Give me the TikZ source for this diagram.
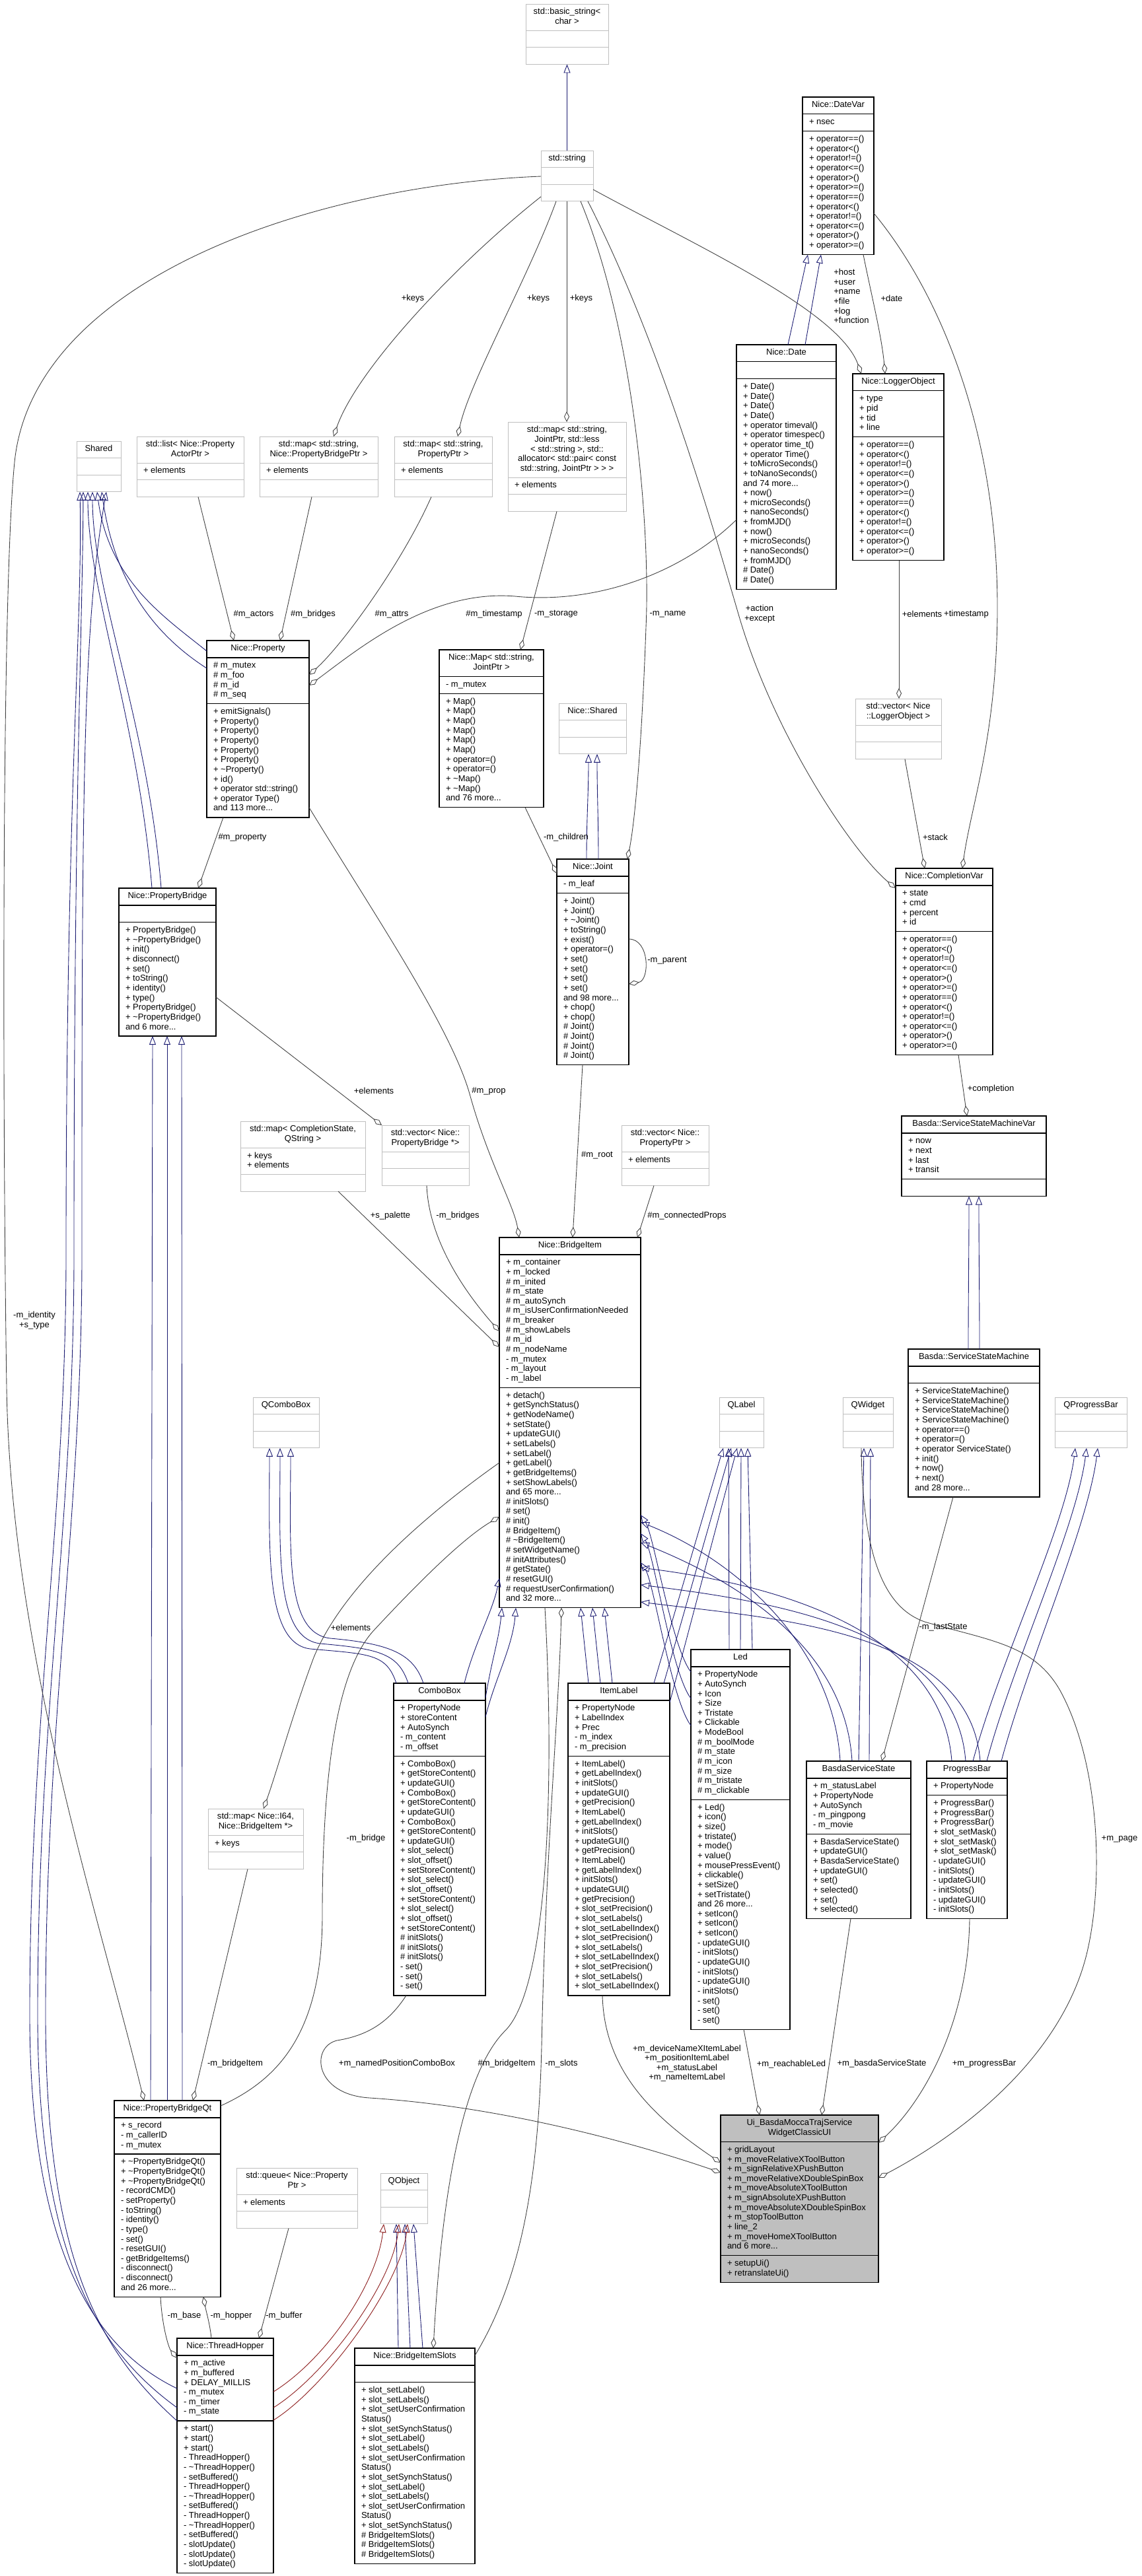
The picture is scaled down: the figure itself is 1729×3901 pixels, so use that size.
\documentclass[tikz,border=0pt]{standalone}
\usepackage{fontspec}
\setmainfont{Liberation Sans}
\usetikzlibrary{arrows.meta,calc,shapes.multipart}
\definecolor{inhblue}{HTML}{191970}
\definecolor{protred}{HTML}{8B1A1A}
\definecolor{usegray}{HTML}{404040}
\definecolor{extgray}{HTML}{BFBFBF}
\definecolor{uigray}{HTML}{BFBFBF}
\newcommand{\classfont}{\fontsize{7.4}{8.33}\selectfont}
\newcommand{\hd}[1]{\begin{tabular}{@{}c@{}}#1\end{tabular}}
\newcommand{\mb}[1]{\begin{tabular}{@{}l@{}}#1\end{tabular}}
\newcommand{\opsix}{+ operator==()\\+ operator<()\\+ operator!=()\\+ operator<=()\\+ operator>()\\+ operator>=()}
\tikzset{
  cls/.style={rectangle split, rectangle split parts=3,
    rectangle split part align={center,left,left},
    draw=black, line width=0.7pt, anchor=north west, outer sep=0pt,
    inner xsep=2mm, inner ysep=1mm, minimum width=#1*0.2mm, font=\classfont},
  extcls/.style={cls=#1, draw=extgray, line width=0.55pt},
  uicls/.style={cls=#1, fill=uigray},
  inh/.style={draw=inhblue, line width=0.5pt, -{Triangle[open,length=2.6mm,width=2mm]}},
  protinh/.style={inh, draw=protred},
  usage/.style={draw=usegray, line width=0.5pt, -{Diamond[open,length=3.2mm,width=1.6mm]}},
  lbl/.style={font=\classfont, inner sep=0pt}
}
\begin{document}
\begin{tikzpicture}[x=0.2mm, y=-0.2mm]
  \useasboundingbox (0,0) rectangle (1729,3901);
  % classes
  \node[extcls=125] (basicString) at (796,6) {\hd{std::basic\_string<\\char >}\nodepart{two}\strut\nodepart{three}\strut};
  \node[extcls=79] (stdString) at (819,228) {\hd{std::string}\nodepart{two}\strut\nodepart{three}\strut};
  \node[cls=108] (dateVar) at (1215,147) {\hd{Nice::DateVar}\nodepart{two}\mb{+ nsec}\nodepart{three}\mb{\opsix\\\opsix}};
  \node[extcls=67] (shared) at (116,668) {\hd{Shared}\nodepart{two}\strut\nodepart{three}\strut};
  \node[extcls=162] (actorList) at (207,661) {\hd{std::list< Nice::Property\\ActorPtr >}\nodepart{two}\mb{+ elements}\nodepart{three}\strut};
  \node[extcls=179] (bridgeMap) at (393,661) {\hd{std::map< std::string,\\Nice::PropertyBridgePtr >}\nodepart{two}\mb{+ elements}\nodepart{three}\strut};
  \node[extcls=148] (attrMap) at (597,661) {\hd{std::map< std::string,\\PropertyPtr >}\nodepart{two}\mb{+ elements}\nodepart{three}\strut};
  \node[extcls=179] (jointStdMap) at (769,639) {\hd{std::map< std::string,\\JointPtr, std::less\\< std::string >, std::\\allocator< std::pair< const\\std::string, JointPtr > > >}\nodepart{two}\mb{+ elements}\nodepart{three}\strut};
  \node[cls=151] (date) at (1115,522) {\hd{Nice::Date}\nodepart{two}\strut\nodepart{three}\mb{+ Date()\\+ Date()\\+ Date()\\+ Date()\\+ operator timeval()\\+ operator timespec()\\+ operator time\_t()\\+ operator Time()\\+ toMicroSeconds()\\+ toNanoSeconds()\\and 74 more...\\+ now()\\+ microSeconds()\\+ nanoSeconds()\\+ fromMJD()\\+ now()\\+ microSeconds()\\+ nanoSeconds()\\+ fromMJD()\\\# Date()\\\# Date()}};
  \node[cls=138] (logger) at (1291,566) {\hd{Nice::LoggerObject}\nodepart{two}\mb{+ type\\+ pid\\+ tid\\+ line}\nodepart{three}\mb{\opsix\\\opsix}};
  \node[cls=155] (property) at (313,970) {\hd{Nice::Property}\nodepart{two}\mb{\# m\_mutex\\\# m\_foo\\\# m\_id\\\# m\_seq}\nodepart{three}\mb{+ emitSignals()\\+ Property()\\+ Property()\\+ Property()\\+ Property()\\+ Property()\\+ \textasciitilde Property()\\+ id()\\+ operator std::string()\\+ operator Type()\\and 113 more...}};
  \node[cls=158] (jointMap) at (665,984) {\hd{Nice::Map< std::string,\\JointPtr >}\nodepart{two}\mb{- m\_mutex}\nodepart{three}\mb{+ Map()\\+ Map()\\+ Map()\\+ Map()\\+ Map()\\+ Map()\\+ operator=()\\+ operator=()\\+ \textasciitilde Map()\\+ \textasciitilde Map()\\and 76 more...}};
  \node[extcls=102] (niceShared) at (846,1065) {\hd{Nice::Shared}\nodepart{two}\strut\nodepart{three}\strut};
  \node[cls=109] (joint) at (843,1301) {\hd{Nice::Joint}\nodepart{two}\mb{- m\_leaf}\nodepart{three}\mb{+ Joint()\\+ Joint()\\+ \textasciitilde Joint()\\+ toString()\\+ exist()\\+ operator=()\\+ set()\\+ set()\\+ set()\\+ set()\\and 98 more...\\+ chop()\\+ chop()\\\# Joint()\\\# Joint()\\\# Joint()\\\# Joint()}};
  \node[extcls=130] (loggerVec) at (1295,1058) {\hd{std::vector< Nice\\::LoggerObject >}\nodepart{two}\strut\nodepart{three}\strut};
  \node[cls=147] (completion) at (1356,1315) {\hd{Nice::CompletionVar}\nodepart{two}\mb{+ state\\+ cmd\\+ percent\\+ id}\nodepart{three}\mb{\opsix\\\opsix}};
  \node[cls=147] (propBridge) at (180,1345) {\hd{Nice::PropertyBridge}\nodepart{two}\strut\nodepart{three}\mb{+ PropertyBridge()\\+ \textasciitilde PropertyBridge()\\+ init()\\+ disconnect()\\+ set()\\+ toString()\\+ identity()\\+ type()\\+ PropertyBridge()\\+ \textasciitilde PropertyBridge()\\and 6 more...}};
  \node[cls=219] (ssmVar) at (1365,1690) {\hd{Basda::ServiceStateMachineVar}\nodepart{two}\mb{+ now\\+ next\\+ last\\+ transit}\nodepart{three}\strut};
  \node[extcls=189] (paletteMap) at (364,1698) {\hd{std::map< CompletionState,\\QString >}\nodepart{two}\mb{+ keys\\+ elements}\nodepart{three}\strut};
  \node[extcls=132] (bridgeVec) at (578,1704) {\hd{std::vector< Nice::\\PropertyBridge *>}\nodepart{two}\strut\nodepart{three}\strut};
  \node[extcls=132] (propVec) at (941,1704) {\hd{std::vector< Nice::\\PropertyPtr >}\nodepart{two}\mb{+ elements}\nodepart{three}\strut};
  \node[cls=214] (bridgeItem) at (756,1874) {\hd{Nice::BridgeItem}\nodepart{two}\mb{+ m\_container\\+ m\_locked\\\# m\_inited\\\# m\_state\\\# m\_autoSynch\\\# m\_isUserConfirmationNeeded\\\# m\_breaker\\\# m\_showLabels\\\# m\_id\\\# m\_nodeName\\- m\_mutex\\- m\_layout\\- m\_label}\nodepart{three}\mb{+ detach()\\+ getSynchStatus()\\+ getNodeName()\\+ setState()\\+ updateGUI()\\+ setLabels()\\+ setLabel()\\+ getLabel()\\+ getBridgeItems()\\+ setShowLabels()\\and 65 more...\\\# initSlots()\\\# set()\\\# init()\\\# BridgeItem()\\\# \textasciitilde BridgeItem()\\\# setWidgetName()\\\# initAttributes()\\\# getState()\\\# resetGUI()\\\# requestUserConfirmation()\\and 32 more...}};
  \node[extcls=100] (qComboBox) at (383,2116) {\hd{QComboBox}\nodepart{two}\strut\nodepart{three}\strut};
  \node[extcls=67] (qLabel) at (1089,2116) {\hd{QLabel}\nodepart{two}\strut\nodepart{three}\strut};
  \node[extcls=76] (qWidget) at (1276,2116) {\hd{QWidget}\nodepart{two}\strut\nodepart{three}\strut};
  \node[cls=199] (ssm) at (1375,2043) {\hd{Basda::ServiceStateMachine}\nodepart{two}\strut\nodepart{three}\mb{+ ServiceStateMachine()\\+ ServiceStateMachine()\\+ ServiceStateMachine()\\+ ServiceStateMachine()\\+ operator==()\\+ operator=()\\+ operator ServiceState()\\+ init()\\+ now()\\+ next()\\and 28 more...}};
  \node[extcls=109] (qProgressBar) at (1597,2116) {\hd{QProgressBar}\nodepart{two}\strut\nodepart{three}\strut};
  \node[cls=139] (comboBox) at (596,2549) {\hd{ComboBox}\nodepart{two}\mb{+ PropertyNode\\+ storeContent\\+ AutoSynch\\- m\_content\\- m\_offset}\nodepart{three}\mb{+ ComboBox()\\+ getStoreContent()\\+ updateGUI()\\+ ComboBox()\\+ getStoreContent()\\+ updateGUI()\\+ ComboBox()\\+ getStoreContent()\\+ updateGUI()\\+ slot\_select()\\+ slot\_offset()\\+ setStoreContent()\\+ slot\_select()\\+ slot\_offset()\\+ setStoreContent()\\+ slot\_select()\\+ slot\_offset()\\+ setStoreContent()\\\# initSlots()\\\# initSlots()\\\# initSlots()\\- set()\\- set()\\- set()}};
  \node[cls=154] (itemLabel) at (860,2549) {\hd{ItemLabel}\nodepart{two}\mb{+ PropertyNode\\+ LabelIndex\\+ Prec\\- m\_index\\- m\_precision}\nodepart{three}\mb{+ ItemLabel()\\+ getLabelIndex()\\+ initSlots()\\+ updateGUI()\\+ getPrecision()\\+ ItemLabel()\\+ getLabelIndex()\\+ initSlots()\\+ updateGUI()\\+ getPrecision()\\+ ItemLabel()\\+ getLabelIndex()\\+ initSlots()\\+ updateGUI()\\+ getPrecision()\\+ slot\_setPrecision()\\+ slot\_setLabels()\\+ slot\_setLabelIndex()\\+ slot\_setPrecision()\\+ slot\_setLabels()\\+ slot\_setLabelIndex()\\+ slot\_setPrecision()\\+ slot\_setLabels()\\+ slot\_setLabelIndex()}};
  \node[cls=150] (led) at (1046,2498) {\hd{Led}\nodepart{two}\mb{+ PropertyNode\\+ AutoSynch\\+ Icon\\+ Size\\+ Tristate\\+ Clickable\\+ ModeBool\\\# m\_boolMode\\\# m\_state\\\# m\_icon\\\# m\_size\\\# m\_tristate\\\# m\_clickable}\nodepart{three}\mb{+ Led()\\+ icon()\\+ size()\\+ tristate()\\+ mode()\\+ value()\\+ mousePressEvent()\\+ clickable()\\+ setSize()\\+ setTristate()\\and 26 more...\\+ setIcon()\\+ setIcon()\\+ setIcon()\\- updateGUI()\\- initSlots()\\- updateGUI()\\- initSlots()\\- updateGUI()\\- initSlots()\\- set()\\- set()\\- set()}};
  \node[cls=158] (serviceState) at (1221,2667) {\hd{BasdaServiceState}\nodepart{two}\mb{+ m\_statusLabel\\+ PropertyNode\\+ AutoSynch\\- m\_pingpong\\- m\_movie}\nodepart{three}\mb{+ BasdaServiceState()\\+ updateGUI()\\+ BasdaServiceState()\\+ updateGUI()\\+ set()\\+ selected()\\+ set()\\+ selected()}};
  \node[cls=122] (progressBar) at (1403,2667) {\hd{ProgressBar}\nodepart{two}\mb{+ PropertyNode}\nodepart{three}\mb{+ ProgressBar()\\+ ProgressBar()\\+ ProgressBar()\\+ slot\_setMask()\\+ slot\_setMask()\\+ slot\_setMask()\\- updateGUI()\\- initSlots()\\- updateGUI()\\- initSlots()\\- updateGUI()\\- initSlots()}};
  \node[extcls=144] (itemMap) at (315,2739) {\hd{std::map< Nice::I64,\\Nice::BridgeItem *>}\nodepart{two}\mb{+ keys}\nodepart{three}\strut};
  \node[uicls=239] (ui) at (1091,3203) {\hd{Ui\_BasdaMoccaTrajService\\WidgetClassicUI}\nodepart{two}\mb{+ gridLayout\\+ m\_moveRelativeXToolButton\\+ m\_signRelativeXPushButton\\+ m\_moveRelativeXDoubleSpinBox\\+ m\_moveAbsoluteXToolButton\\+ m\_signAbsoluteXPushButton\\+ m\_moveAbsoluteXDoubleSpinBox\\+ m\_stopToolButton\\+ line\_2\\+ m\_moveHomeXToolButton\\and 6 more...}\nodepart{three}\mb{+ setupUi()\\+ retranslateUi()}};
  \node[cls=161] (bridgeQt) at (173,3181) {\hd{Nice::PropertyBridgeQt}\nodepart{two}\mb{+ s\_record\\- m\_callerID\\- m\_mutex}\nodepart{three}\mb{+ \textasciitilde PropertyBridgeQt()\\+ \textasciitilde PropertyBridgeQt()\\+ \textasciitilde PropertyBridgeQt()\\- recordCMD()\\- setProperty()\\- toString()\\- identity()\\- type()\\- set()\\- resetGUI()\\- getBridgeItems()\\- disconnect()\\- disconnect()\\and 26 more...}};
  \node[extcls=183] (propQueue) at (358,3283) {\hd{std::queue< Nice::Property\\Ptr >}\nodepart{two}\mb{+ elements}\nodepart{three}\strut};
  \node[extcls=71] (qObject) at (576,3291) {\hd{QObject}\nodepart{two}\strut\nodepart{three}\strut};
  \node[cls=146] (hopper) at (268,3541) {\hd{Nice::ThreadHopper}\nodepart{two}\mb{+ m\_active\\+ m\_buffered\\+ DELAY\_MILLIS\\- m\_mutex\\- m\_timer\\- m\_state}\nodepart{three}\mb{+ start()\\+ start()\\+ start()\\- ThreadHopper()\\- \textasciitilde ThreadHopper()\\- setBuffered()\\- ThreadHopper()\\- \textasciitilde ThreadHopper()\\- setBuffered()\\- ThreadHopper()\\- \textasciitilde ThreadHopper()\\- setBuffered()\\- slotUpdate()\\- slotUpdate()\\- slotUpdate()}};
  \node[cls=182] (slots) at (537,3556) {\hd{Nice::BridgeItemSlots}\nodepart{two}\strut\nodepart{three}\mb{+ slot\_setLabel()\\+ slot\_setLabels()\\+ slot\_setUserConfirmation\\Status()\\+ slot\_setSynchStatus()\\+ slot\_setLabel()\\+ slot\_setLabels()\\+ slot\_setUserConfirmation\\Status()\\+ slot\_setSynchStatus()\\+ slot\_setLabel()\\+ slot\_setLabels()\\+ slot\_setUserConfirmation\\Status()\\+ slot\_setSynchStatus()\\\# BridgeItemSlots()\\\# BridgeItemSlots()\\\# BridgeItemSlots()}};

  % inheritance
  \draw[inh] (stdString.north) -- (basicString.south);
  \foreach \a/\b in {78/8, 104/28}
    \draw[inh] ($(date.north west)+(\a,0)$) -- ($(dateVar.south west)+(\b,0)$);
  \foreach \a/\b in {45/45, 63/58}
    \draw[inh] ($(joint.north west)+(\a,0)$) .. controls +(0,-60) and +(0,60) .. ($(niceShared.south west)+(\b,0)$);
  \foreach \a/\b in {91/102, 108/117}
    \draw[inh] ($(ssm.north west)+(\a,0)$) .. controls +(0,-90) and +(0,90) .. ($(ssmVar.south west)+(\b,0)$);
  \draw[inh] ($(property.north west)+(0,16)$) .. controls (250,935) and (165,880) .. ($(shared.south west)+(31,0)$);
  \draw[inh] ($(property.north west)+(0,42)$) .. controls (240,965) and (175,890) .. ($(shared.south west)+(38,0)$);
  \foreach \a/\b in {50/17, 64/24}
    \draw[inh] ($(propBridge.north west)+(\a,0)$) .. controls +(-20,-250) and +(0,150) .. ($(shared.south west)+(\b,0)$);
  \foreach \dy/\b/\c in {76/5/100, 105/10/112, 125/45/124}
    \draw[inh] ($(hopper.north west)+(0,\dy)$) .. controls (150,3560) and (\c-55,3420) .. (\c-55,3050) .. controls (\c-55,2600) and (\c,2300) .. (\c,1900) .. controls (\c,1200) and (125,950) .. ($(shared.south west)+(\b,0)$);
  \foreach \a/\b in {55/51, 80/73, 103/95}
    \draw[inh] ($(bridgeQt.north west)+(\a,0)$) -- ($(propBridge.south west)+(\b,0)$);
  \foreach \a/\b/\i in {4/25/0, 22/41/1, 45/57/2}
    \draw[inh] ($(comboBox.north west)+(\a,0)$) .. controls +(-15,-45) and +(90,8) .. (470+15*\i,2497-8*\i) .. controls +(-70,-8) and +(0,150) .. ($(qComboBox.south west)+(\b,0)$);
  \draw[inh] ($(comboBox.north west)+(107,0)$) .. controls +(15,-60) and +(-10,50) .. ($(bridgeItem.north west)+(0,516)$);
  \draw[inh] ($(comboBox.north east)+(0,22)$) .. controls +(10,-60) and +(-5,50) .. ($(bridgeItem.south west)+(4,0)$);
  \draw[inh] ($(comboBox.north east)+(0,51)$) .. controls +(15,-60) and +(-5,60) .. ($(bridgeItem.south west)+(25,0)$);
  \foreach \a/\b in {31/123, 49/141, 67/159}
    \draw[inh] ($(itemLabel.north west)+(\a,0)$) -- ($(bridgeItem.south west)+(\b,0)$);
  \draw[inh] ($(itemLabel.north west)+(130,0)$) -- ($(qLabel.south west)+(6,0)$);
  \draw[inh] ($(itemLabel.north west)+(145,0)$) -- ($(qLabel.south west)+(18,0)$);
  \draw[inh] ($(itemLabel.north east)+(0,29)$) -- ($(qLabel.south west)+(27,0)$);
  \foreach \a/\b in {58/14, 75/33, 93/43}
    \draw[inh] ($(led.north west)+(\a,0)$) -- ($(qLabel.south west)+(\b,0)$);
  \foreach \a/\b in {34/420, 74/448, 115/492}
    \draw[inh] ($(led.north west)+(0,\a)$) .. controls +(-30,-40) and +(20,30) .. ($(bridgeItem.north east)+(0,\b)$);
  \foreach \a/\b in {51/431, 69/462}
    \draw[inh] ($(serviceState.north west)+(\a,0)$) .. controls +(-10,-170) and +(150,60) .. ($(bridgeItem.north east)+(0,\b)$);
  \foreach \a/\b in {79/32, 95/42}
    \draw[inh] ($(serviceState.north west)+(\a,0)$) -- ($(qWidget.south west)+(\b,0)$);
  \foreach \a/\b in {38/500, 59/526, 81/552}
    \draw[inh] ($(progressBar.north west)+(\a,0)$) .. controls +(-15,-200) and +(200,25) .. ($(bridgeItem.north east)+(0,\b)$);
  \foreach \a/\b in {70/31, 91/48, 113/65}
    \draw[inh] ($(progressBar.north west)+(\a,0)$) .. controls +(40,-150) and +(-15,120) .. ($(qProgressBar.south west)+(\b,0)$);
  \foreach \a/\b in {66/24, 84/37, 103/50}
    \draw[inh] ($(slots.north west)+(\a,0)$) -- ($(qObject.south west)+(\b,0)$);
  \foreach \a/\b in {81/5, 105/28, 124/41}
    \draw[protinh] ($(hopper.north east)+(0,\a)$) .. controls +(80,-50) and +(-10,90) .. ($(qObject.south west)+(\b,0)$);

  % usage
  \draw[usage] ($(stdString.south west)+(0,-7)$) .. controls (690,400) and (540,560) .. ($(bridgeMap.north west)+(112,0)$);
  \draw[usage] ($(stdString.south west)+(23,0)$) .. controls (800,420) and (710,580) .. ($(attrMap.north west)+(96,0)$);
  \draw[usage] ($(stdString.south west)+(39,0)$) -- ($(jointStdMap.north west)+(89,0)$);
  \draw[usage] ($(stdString.south west)+(60,0)$) .. controls (960,500) and (985,800) .. (978,950) .. controls (972,1120) and (962,1240) .. ($(joint.north east)+(-2,0)$);
  \draw[usage] ($(stdString.south west)+(71,0)$) .. controls (1000,520) and (1080,800) .. (1118,930) .. controls (1170,1110) and (1290,1290) .. ($(completion.north west)+(0,30)$);
  \draw[usage] ($(stdString.north east)+(0,59)$) .. controls (1050,370) and (1270,470) .. ($(logger.north west)+(13,0)$);
  \draw[usage] ($(stdString.north west)+(0,39)$) .. controls (480,280) and (50,420) .. (22,700) .. controls (2,900) and (4,1700) .. (10,2100) .. controls (16,2500) and (150,2900) .. ($(bridgeQt.north west)+(45,0)$);
  \draw[usage] ($(dateVar.south west)+(92,0)$) .. controls (1320,450) and (1335,510) .. ($(logger.north west)+(49,0)$);
  \draw[usage] ($(dateVar.north east)+(0,176)$) .. controls (1420,440) and (1512,650) .. (1510,930) .. controls (1508,1120) and (1470,1220) .. ($(completion.north west)+(101,0)$);
  \draw[usage] ($(logger.south west)+(70,0)$) -- ($(loggerVec.north west)+(66,0)$);
  \draw[usage] ($(loggerVec.south west)+(75,0)$) -- ($(completion.north west)+(44,0)$);
  \draw[usage] ($(completion.south west)+(95,0)$) -- ($(ssmVar.north west)+(99,0)$);
  \draw[usage] ($(jointStdMap.south west)+(74,0)$) -- ($(jointMap.north west)+(123,0)$);
  \draw[usage] ($(actorList.south west)+(93,0)$) -- ($(property.north west)+(41,0)$);
  \draw[usage] ($(bridgeMap.south west)+(79,0)$) -- ($(property.north west)+(111,0)$);
  \draw[usage] ($(attrMap.south west)+(56,0)$) .. controls (610,850) and (520,975) .. ($(property.north east)+(0,52)$);
  \draw[usage] ($(date.north west)+(0,265)$) .. controls (1030,870) and (900,915) .. (780,903) .. controls (650,892) and (540,985) .. ($(property.north east)+(0,68)$);
  \draw[usage] ($(jointMap.south west)+(130,0)$) -- ($(joint.north west)+(0,22)$);
  \draw[usage] ($(joint.north east)+(0,121)$) .. controls +(32,0) and +(32,-5) .. ($(joint.north east)+(0,189)$);
  \draw[usage] ($(joint.south west)+(39,0)$) -- ($(bridgeItem.north west)+(111,0)$);
  \draw[usage] ($(property.south west)+(25,0)$) -- ($(propBridge.north west)+(120,0)$);
  \draw[usage] ($(property.south east)+(0,-15)$) .. controls (570,1390) and (685,1560) .. (712,1660) .. controls (740,1760) and (778,1825) .. ($(bridgeItem.north west)+(30,0)$);
  \draw[usage] ($(propBridge.north east)+(0,165)$) -- (bridgeVec.north west);
  \draw[usage] ($(paletteMap.south west)+(148,0)$) -- ($(bridgeItem.north west)+(0,166)$);
  \draw[usage] ($(bridgeVec.south west)+(68,0)$) .. controls (650,1890) and (720,1975) .. ($(bridgeItem.north west)+(0,142)$);
  \draw[usage] ($(propVec.south west)+(49,0)$) -- ($(bridgeItem.north east)+(-5,0)$);
  \draw[usage] ($(bridgeItem.north west)+(0,341)$) .. controls (650,2290) and (520,2400) .. (475,2510) .. controls (445,2590) and (420,2680) .. ($(itemMap.north west)+(84,0)$);
  \draw[usage] ($(bridgeQt.north east)+(0,8)$) .. controls (420,3150) and (488,3080) .. (488,2900) .. controls (488,2640) and (520,2520) .. (565,2470) .. controls (630,2400) and (700,2330) .. ($(bridgeItem.north west)+(0,423)$);
  \draw[usage] ($(itemMap.south west)+(60,0)$) -- ($(bridgeQt.north west)+(119,0)$);
  \draw[usage] ($(ssm.south west)+(68,0)$) -- ($(serviceState.north west)+(114,0)$);
  \draw[usage] ($(qWidget.south west)+(28,0)$) .. controls (1306,2360) and (1340,2435) .. (1400,2456) .. controls (1500,2485) and (1565,2490) .. (1605,2560) .. controls (1665,2670) and (1672,2850) .. (1645,2960) .. controls (1605,3120) and (1450,3235) .. ($(ui.north east)+(0,95)$);
  \draw[usage] ($(comboBox.south west)+(19,0)$) .. controls (590,3060) and (560,3082) .. (510,3090) .. controls (470,3100) and (475,3172) .. (560,3177) .. controls (760,3190) and (960,3245) .. ($(ui.north west)+(0,87)$);
  \draw[usage] ($(itemLabel.south west)+(52,0)$) .. controls (915,3130) and (980,3200) .. ($(ui.north west)+(0,72)$);
  \draw[usage] ($(led.south west)+(80,0)$) -- ($(ui.north west)+(59,0)$);
  \draw[usage] ($(serviceState.south west)+(67,0)$) -- ($(ui.north west)+(153,0)$);
  \draw[usage] ($(progressBar.south west)+(65,0)$) .. controls (1466,3060) and (1400,3180) .. ($(ui.north east)+(0,42)$);
  \draw[usage] ($(bridgeItem.south west)+(69,0)$) .. controls (840,2700) and (830,3010) .. (765,3075) .. controls (705,3135) and (670,3300) .. ($(slots.north west)+(119,0)$);
  \draw[usage] ($(slots.north east)+(0,11)$) .. controls (790,3450) and (815,3300) .. (820,3100) .. controls (826,2800) and (846,2600) .. ($(bridgeItem.south west)+(94,0)$);
  \draw[usage] ($(bridgeQt.south west)+(70,0)$) .. controls (245,3520) and (255,3555) .. ($(hopper.north west)+(0,30)$);
  \draw[usage] ($(hopper.north west)+(52,0)$) .. controls (318,3520) and (312,3500) .. ($(bridgeQt.south west)+(135,0)$);
  \draw[usage] ($(propQueue.south west)+(79,0)$) -- ($(hopper.north west)+(124,0)$);

  % labels
  \node[lbl] (lKeys1) at (625,452) {+keys};
  \node[lbl] (lKeys2) at (815,452) {+keys};
  \node[lbl] (lKeys3) at (880,452) {+keys};
  \node[lbl, anchor=north west] (lHost) at (1262,406) {\mb{+host\\+user\\+name\\+file\\+log\\+function}};
  \node[lbl] (lDate) at (1350,452) {+date};
  \node[lbl] (lTimestamp) at (1463,930) {+timestamp};
  \node[lbl] (lActors) at (384,930) {\#m\_actors};
  \node[lbl] (lBridges) at (474,930) {\#m\_bridges};
  \node[lbl] (lAttrs) at (593,930) {\#m\_attrs};
  \node[lbl] (lStamp) at (748,930) {\#m\_timestamp};
  \node[lbl] (lStorage) at (842,930) {-m\_storage};
  \node[lbl] (lName) at (1011,930) {-m\_name};
  \node[lbl] (lAction) at (1150,930) {\hd{+action\\+except}};
  \node[lbl] (lLogElem) at (1396,930) {+elements};
  \node[lbl] (lProperty) at (367,1268) {\#m\_property};
  \node[lbl] (lChildren) at (857,1268) {-m\_children};
  \node[lbl] (lStack) at (1416,1268) {+stack};
  \node[lbl] (lParent) at (1010,1455) {-m\_parent};
  \node[lbl] (lCompletion) at (1500,1649) {+completion};
  \node[lbl] (lBridgeElem) at (566,1652) {+elements};
  \node[lbl] (lProp) at (740,1652) {\#m\_prop};
  \node[lbl] (lRoot) at (904,1749) {\#m\_root};
  \node[lbl] (lPalette) at (591,1841) {+s\_palette};
  \node[lbl] (lMBridges) at (693,1841) {-m\_bridges};
  \node[lbl] (lConnected) at (1040,1841) {\#m\_connectedProps};
  \node[lbl] (lIdentity) at (52,2000) {\hd{-m\_identity\\+s\_type}};
  \node[lbl] (lItemElem) at (531,2465) {+elements};
  \node[lbl] (lLastState) at (1428,2464) {-m\_lastState};
  \node[lbl] (lBridge) at (554,2784) {-m\_bridge};
  \node[lbl] (lPage) at (1695,2785) {+m\_page};
  \node[lbl] (lBridgeItemQt) at (356,3125) {-m\_bridgeItem};
  \node[lbl] (lNamedPos) at (601,3125) {+m\_namedPositionComboBox};
  \node[lbl] (lBridgeItemSl) at (767,3125) {\#m\_bridgeItem};
  \node[lbl] (lSlots) at (850,3125) {-m\_slots};
  \node[lbl] (lLabels) at (1040,3125) {\hd{+m\_deviceNameXItemLabel\\+m\_positionItemLabel\\+m\_statusLabel\\+m\_nameItemLabel}};
  \node[lbl] (lReachable) at (1198,3126) {+m\_reachableLed};
  \node[lbl] (lServiceState) at (1335,3125) {+m\_basdaServiceState};
  \node[lbl] (lProgress) at (1490,3125) {+m\_progressBar};
  \node[lbl] (lBase) at (279,3507) {-m\_base};
  \node[lbl] (lHopper) at (350,3507) {-m\_hopper};
  \node[lbl] (lBuffer) at (430,3507) {-m\_buffer};
\end{tikzpicture}
\end{document}
